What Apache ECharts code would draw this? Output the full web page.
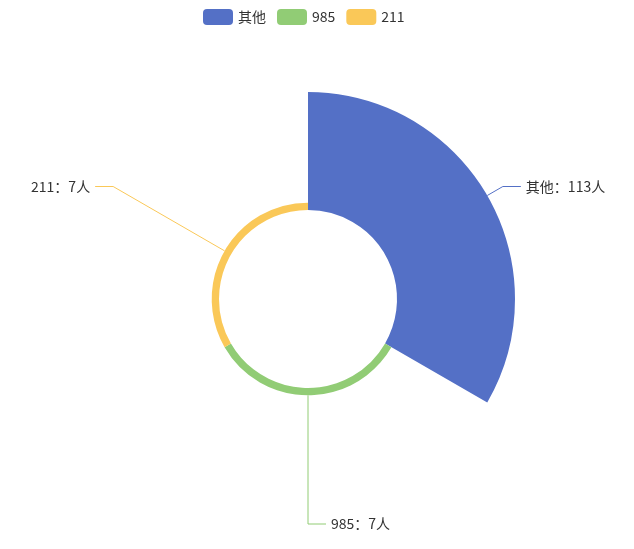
<!DOCTYPE html>
<html>
<head>
<meta charset="utf-8">
<script src="https://cdn.jsdelivr.net/npm/echarts@6/dist/echarts.min.js"></script>
<style>
html,body{margin:0;padding:0;background:#fff;}
#main{width:634px;height:549px;}
</style>
</head>
<body>
<div id="main"></div>
<script>
const categories = ['其他', '985', '211'];
const values = [113, 7, 7];

const chart = echarts.init(document.getElementById('main'));
const font = '"Microsoft YaHei", "Noto Sans CJK SC", sans-serif';
chart.setOption({
  color: ['#5470c6', '#91cc75', '#fac858'],
  legend: {
    top: 4,
    left: 198,
    itemWidth: 30,
    itemHeight: 16,
    itemGap: 11,
    textStyle: { fontSize: 14, color: '#333', fontFamily: font },
    data: categories
  },
  series: [{
    type: 'pie',
    roseType: 'area',
    center: [308, 299],
    radius: [89, 207],
    startAngle: 90,
    label: {
      show: true,
      formatter: '{b}：{c}人',
      fontSize: 14,
      color: '#333',
      fontFamily: font
    },
    labelLine: { show: true, length: 18, length2: 18 },
    data: categories.map((n, i) => ({ name: n, value: values[i] }))
  }]
});
</script>
</body>
</html>
